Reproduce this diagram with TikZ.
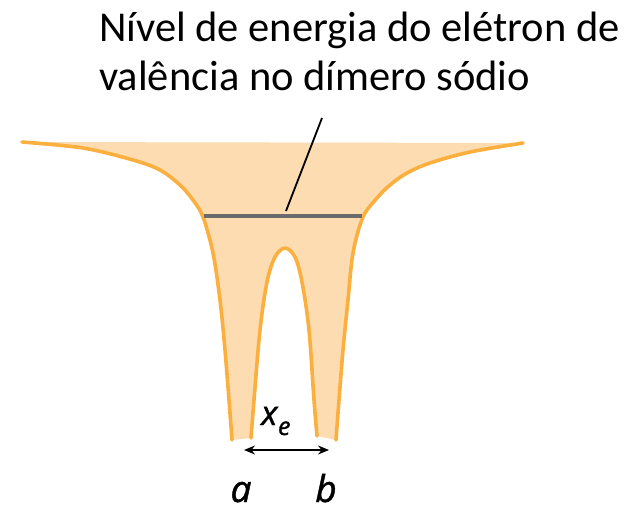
\documentclass[tikz,border=0pt]{standalone}
\usepackage{fontspec}
\setmainfont{Carlito}
\newfontfamily\labelfont[FakeBold=1.2, ItalicFeatures={FakeBold=1.2}]{Open Sans}
\usetikzlibrary{arrows.meta}
\definecolor{wellfill}{HTML}{FDDCB1}
\definecolor{wellline}{HTML}{FBAF3F}
\definecolor{levelgray}{HTML}{6B6B6B}
\tikzset{
  wellstroke/.style={draw=wellline, line width=3.6pt, line cap=round, line join=round},
  titletext/.style={anchor=base west, inner sep=0pt, font=\fontsize{42.5}{48}\selectfont},
  atomlabel/.style={inner sep=0pt, font=\labelfont\itshape\fontsize{37}{42}\selectfont},
}
\begin{document}
\begin{tikzpicture}[x=1pt,y=-1pt]
\useasboundingbox (0,0) rectangle (640,509);
\def\leftwall{(22,142) (83,148) (133,160) (160,170) (180,185) (193,200) (203,217) (213,253) (220,300) (225,350) (229,400) (232,440)}
\def\innerwall{(251,438) (254,400) (260,330) (267,282) (275,257) (285,248) (295,257) (302,282) (309,330) (314,400) (317,436)}
\def\rightwall{(336,440) (339,400) (343,350) (348,300) (353,253) (363,217) (377,198) (390,185) (407,173) (430,163) (470,152) (523,143)}
% fill of the well
\fill[wellfill] plot[smooth, tension=0.55] coordinates \leftwall
  -- plot[smooth, tension=0.55] coordinates \innerwall
  -- plot[smooth, tension=0.55] coordinates \rightwall
  -- cycle;
% outlines
\draw[wellstroke] plot[smooth, tension=0.55] coordinates \leftwall;
\draw[wellstroke] plot[smooth, tension=0.55] coordinates \innerwall;
\draw[wellstroke] plot[smooth, tension=0.55] coordinates \rightwall;
% energy level
\coordinate (levL) at (204,216);
\coordinate (levR) at (362,216);
\draw[levelgray, line width=3.6pt] (levL) -- (levR);
% title and leader
\node[titletext] (title1) at (99,41) {Nível de energia do elétron de};
\node[titletext] (title2) at (99,90) {valência no dímero sódio};
\coordinate (leadTop) at (322,118);
\coordinate (leadBot) at (286,211);
\draw[black, line width=1.8pt] (leadTop) -- (leadBot);
% separation arrow
\coordinate (arrL) at (244,450);
\coordinate (arrR) at (329,450);
\draw[line width=2pt, {Stealth[length=11pt,width=9pt]}-{Stealth[length=11pt,width=9pt]}] (arrL) -- (arrR);
\node[atomlabel, anchor=base west, font=\labelfont\itshape\fontsize{34}{40}\selectfont] (xe) at (261,425) {x\kern0.5pt\raisebox{-10pt}{\fontsize{25}{30}\selectfont e}};
\node[atomlabel, anchor=base] (a) at (241,502) {a};
\node[atomlabel, anchor=base] (b) at (326,502) {b};
\end{tikzpicture}
\end{document}
